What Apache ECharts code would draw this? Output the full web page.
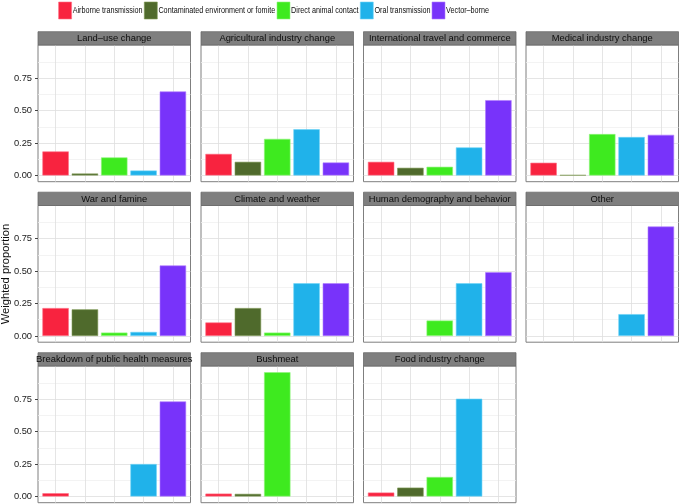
<!DOCTYPE html>
<html><head><meta charset="utf-8">
<script src="https://cdn.jsdelivr.net/npm/echarts@6/dist/echarts.min.js"></script>
<style>html,body{margin:0;padding:0;background:#fff}#c{width:680px;height:504px}</style>
</head><body><div id="c"></div>
<script>
// ---- data ----
const types = ['Airborne transmission', 'Contaminated environment or fomite', 'Direct animal contact', 'Oral transmission', 'Vector\u2013borne'];
const panels = ['Land\u2013use change', 'Agricultural industry change', 'International travel and commerce', 'Medical industry change',
  'War and famine', 'Climate and weather', 'Human demography and behavior', 'Other',
  'Breakdown of public health measures', 'Bushmeat', 'Food industry change'];
const airborne     = [0.185, 0.166, 0.105, 0.098, 0.215, 0.104, null, null, 0.025, 0.022, 0.030];
const contaminated = [0.015, 0.105, 0.059, 0.003, 0.205, 0.215, null, null, null, 0.020, 0.068];
const directAnimal = [0.139, 0.282, 0.067, 0.319, 0.026, 0.026, 0.119, null, null, 0.957, 0.150];
const oral         = [0.038, 0.356, 0.216, 0.296, 0.031, 0.406, 0.406, 0.168, 0.250, null, 0.753];
const vectorBorne  = [0.647, 0.100, 0.580, 0.313, 0.543, 0.406, 0.491, 0.843, 0.732, null, null];
const yTicks = [0, 0.25, 0.5, 0.75];
const yMinorTicks = [0.125, 0.375, 0.625, 0.875];
const xPositions = [0, 1, 2, 3, 4];

const seriesValues = [airborne, contaminated, directAnimal, oral, vectorBorne];
const colors = ['#f8233f', '#4f6a2c', '#3eea1f', '#20b2ea', '#7833fa'];
const borderColors = ['#ff6f85', '#7f9a55', '#8ef57a', '#6fd4f7', '#b07cff'];

// ---- layout ----
const colLeft = [38, 201, 363.5, 526];
const W = 152.5, stripTop0 = 31.7, rowStep = 160.5, stripH = 13.3, plotH = 136.7;
const yMin = -0.048, yMax = 1.005;
const legendX = [58.3, 144, 276.7, 360, 431.7];
const FONT = 'Liberation Sans, Arial, sans-serif';

const grids = [], xAxes = [], yAxes = [], series = [], graphics = [];
panels.forEach((name, p) => {
  const col = p % 4, row = Math.floor(p / 4);
  const left = colLeft[col];
  const stripTop = stripTop0 + row * rowStep;
  const top = stripTop + stripH;
  grids.push({left: left, top: top, width: W, height: plotH, show: true,
    backgroundColor: '#fff', borderColor: '#7f7f7f', borderWidth: 1});
  xAxes.push({type: 'value', gridIndex: p, min: -0.6, max: 4.6,
    axisLine: {show: false}, axisLabel: {show: false},
    axisTick: {show: false, customValues: xPositions},
    splitLine: {show: true, lineStyle: {color: '#dedede', width: 0.8}}});
  // minor lines
  yAxes.push({type: 'value', gridIndex: p, min: yMin, max: yMax, position: 'left',
    axisLine: {show: false}, axisLabel: {show: false},
    axisTick: {show: false, customValues: yMinorTicks},
    splitLine: {show: true, lineStyle: {color: '#f0f0f0', width: 0.8}}});
  // major axis
  yAxes.push({type: 'value', gridIndex: p, min: yMin, max: yMax, position: 'left',
    axisLine: {show: false},
    axisLabel: {show: col === 0, customValues: yTicks, fontSize: 9.3, color: '#1a1a1a', margin: 6,
      formatter: v => v.toFixed(2)},
    axisTick: {show: col === 0, customValues: yTicks, length: 3, lineStyle: {color: '#444'}},
    splitLine: {show: true, lineStyle: {color: '#dedede', width: 0.8}}});
  seriesValues.forEach((vals, t) => {
    series.push({type: 'bar', name: types[t], xAxisIndex: p, yAxisIndex: 2 * p + 1,
      barWidth: 26.4, barGap: '-100%', animation: false,
      itemStyle: {color: colors[t], borderColor: borderColors[t], borderWidth: 0.6},
      data: vals[p] == null ? [] : [[xPositions[t], vals[p]]]});
  });
  graphics.push({type: 'rect', shape: {x: left, y: stripTop, width: W, height: stripH},
    style: {fill: '#7f7f7f', stroke: '#6a6a6a', lineWidth: 0.8}, z: 10});
  graphics.push({type: 'text', x: left + W / 2, y: stripTop + stripH / 2 + 0.5, z: 11,
    style: {text: name, fontSize: 9.4, fontFamily: FONT, fill: '#0d0d0d',
      align: 'center', verticalAlign: 'middle', textAlign: 'center', textVerticalAlign: 'middle'}});
});
graphics.push({type: 'text', x: 5.5, y: 274, rotation: Math.PI / 2,
  style: {text: 'Weighted proportion', fontSize: 11.2, fontFamily: FONT, fill: '#0d0d0d',
    align: 'center', verticalAlign: 'middle', textAlign: 'center', textVerticalAlign: 'middle'}});
// legend labels (condensed text, as in the reference)
types.forEach((t, i) => {
  graphics.push({type: 'text', x: legendX[i] + 14.4, y: 10.2, scaleX: 0.76, z: 12,
    style: {text: t, fontSize: 9.5, fontFamily: FONT, fill: '#0d0d0d',
      align: 'left', verticalAlign: 'middle', textAlign: 'left', textVerticalAlign: 'middle'}});
});

const legends = types.map((t, i) => ({
  data: [t], left: legendX[i], top: 1.7, padding: 0, itemWidth: 13, itemHeight: 17,
  icon: 'rect', selectedMode: false, formatter: () => '',
  itemStyle: {borderColor: borderColors[i], borderWidth: 0.6},
  textStyle: {fontSize: 9, color: '#111'}
}));

const chart = echarts.init(document.getElementById('c'), null, {renderer: 'canvas'});
chart.setOption({
  animation: false,
  backgroundColor: '#fff',
  textStyle: {fontFamily: FONT},
  legend: legends,
  grid: grids, xAxis: xAxes, yAxis: yAxes, series: series, graphic: graphics
});
</script></body></html>
